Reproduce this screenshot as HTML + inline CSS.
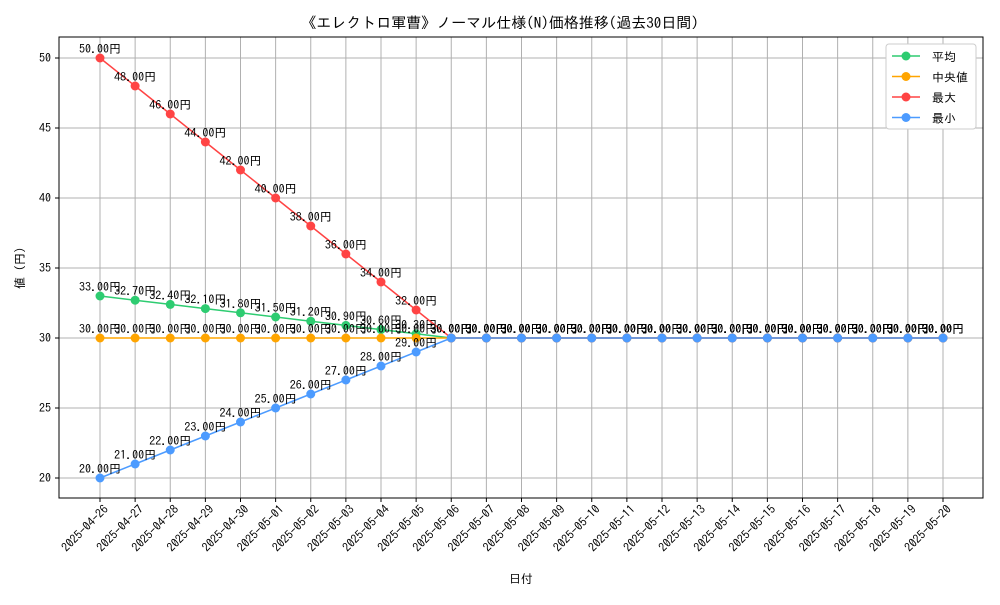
<!DOCTYPE html>
<html><head><meta charset="utf-8"><style>
body{margin:0;background:#fff}
svg text{font-family:"IPAGothic","Noto Sans CJK JP",monospace}
</style></head><body>
<svg id="c" width="1000" height="600" xmlns="http://www.w3.org/2000/svg">
<rect width="1000" height="600" fill="#fff"/>
<text x="500" y="28" text-anchor="middle" font-size="15">《エレクトロ軍曹》ノーマル仕様(N)価格推移(過去30日間)</text>
<g id="grid"></g><g id="axes"></g><g id="series"></g>
<rect x="59" y="37" width="924" height="461" fill="none" stroke="#000" stroke-width="1"/>
<g id="legend"></g>
<text x="521" y="583" text-anchor="middle" font-size="12">日付</text>
<text transform="translate(24,268) rotate(-90)" text-anchor="middle" font-size="12">値 (円)</text>
</svg>
<script>
const dates=["2025-04-26","2025-04-27","2025-04-28","2025-04-29","2025-04-30","2025-05-01","2025-05-02","2025-05-03","2025-05-04","2025-05-05","2025-05-06","2025-05-07","2025-05-08","2025-05-09","2025-05-10","2025-05-11","2025-05-12","2025-05-13","2025-05-14","2025-05-15","2025-05-16","2025-05-17","2025-05-18","2025-05-19","2025-05-20"];
const avgVals=[33,32.7,32.4,32.1,31.8,31.5,31.2,30.9,30.6,30.3,30,30,30,30,30,30,30,30,30,30,30,30,30,30,30];
const medVals=[30,30,30,30,30,30,30,30,30,30,30,30,30,30,30,30,30,30,30,30,30,30,30,30,30];
const maxVals=[50,48,46,44,42,40,38,36,34,32,30,30,30,30,30,30,30,30,30,30,30,30,30,30,30];
const minVals=[20,21,22,23,24,25,26,27,28,29,30,30,30,30,30,30,30,30,30,30,30,30,30,30,30];
const yTicks=[20,25,30,35,40,45,50];
const seriesNames=["平均","中央値","最大","最小"];
const NS="http://www.w3.org/2000/svg";
const X=i=>100+i*(843/(dates.length-1));
const Y=v=>478-(v-20)*14;
function mk(t,a,p){const e=document.createElementNS(NS,t);for(const k in a)e.setAttribute(k,a[k]);(p||document.getElementById('c')).appendChild(e);return e;}
const grid=document.getElementById('grid'),axes=document.getElementById('axes'),ser=document.getElementById('series');
dates.forEach((d,i)=>{
 const l=mk('line',{x1:X(i),x2:X(i),y1:37,y2:498,stroke:'#b0b0b0','stroke-width':1},grid);
 
 
 mk('line',{x1:X(i),x2:X(i),y1:498,y2:502,stroke:'#000'},axes);
 const t=mk('text',{x:0,y:0,'font-size':12,'text-anchor':'end',transform:`translate(${X(i)+9},${510}) rotate(-45)`},axes);
 t.textContent=d;
 
 
});
yTicks.forEach(v=>{
 const l=mk('line',{x1:59,x2:983,y1:Y(v),y2:Y(v),stroke:'#b0b0b0','stroke-width':1},grid);
 
 
 mk('line',{x1:55,x2:59,y1:Y(v),y2:Y(v),stroke:'#000'},axes);
 const t=mk('text',{x:51,y:Y(v)+4,'font-size':12,'text-anchor':'end'},axes);
 t.textContent=v;
 
 
});
const all=[avgVals,medVals,maxVals,minVals],cols=['#2ecc71','#ffa500','#ff4444','#4c9bff'],keys=['avg','median','max','min'];
all.forEach((vals,s)=>{
 const g=mk('g',{},ser);
 
 
 const p=mk('polyline',{points:vals.map((v,i)=>X(i)+','+Y(v)).join(' '),fill:'none',stroke:cols[s],'stroke-width':1.5},g);
 
 
 vals.forEach((v,i)=>{
  const c=mk('circle',{cx:X(i),cy:Y(v),r:4.5,fill:cols[s]},g);
  
  
  const t=mk('text',{x:X(i),y:Y(v)-5,'font-size':12,'text-anchor':'middle'},g);
  t.textContent=v.toFixed(2)+'円';
  
  
 });
});
const lg=document.getElementById('legend');
mk('rect',{x:886,y:44,width:90,height:85,rx:3,fill:'#fff',stroke:'#ccc'},lg);
seriesNames.forEach((n,s)=>{
 const y=56+s*20.5;
 mk('line',{x1:892,x2:920,y1:y,y2:y,stroke:cols[s],'stroke-width':1.5},lg);
 mk('circle',{cx:906,cy:y,r:4.5,fill:cols[s]},lg);
 const t=mk('text',{x:932,y:y+5,'font-size':12},lg);
 t.textContent=n;
 
 
});
</script>
</body></html>
